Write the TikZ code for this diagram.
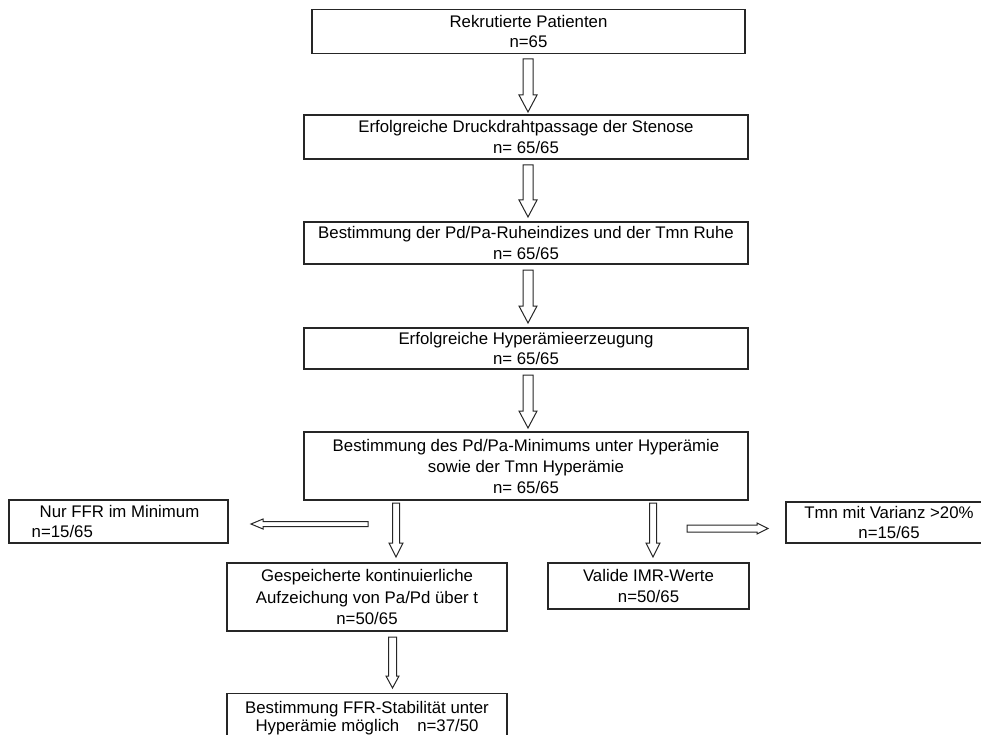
\documentclass[tikz,border=0pt]{standalone}
\usepackage{fontspec}
\setmainfont{Liberation Sans}
\usetikzlibrary{calc}
\tikzset{
  box/.style={draw=black!85, line width=1.3pt, rectangle, inner sep=0pt, align=center,
    font=\fontsize{16.8}{20.5}\selectfont},
  blk/.style={draw=black!85, line width=1pt, fill=white, line join=miter},
}
% vertical block arrow: start, tip, shaft half width, head half width, head length
\newcommand\blkdown[5]{\draw[blk] let \p1=(#1),\p2=(#2) in
  (\x1-#3pt,\y1)--(\x1+#3pt,\y1)--(\x1+#3pt,\y2+#5pt)--(\x1+#4pt,\y2+#5pt)--(\x1,\y2)
  --(\x1-#4pt,\y2+#5pt)--(\x1-#3pt,\y2+#5pt)--cycle;}
% horizontal block arrow pointing left
\newcommand\blkleft[5]{\draw[blk] let \p1=(#1),\p2=(#2) in
  (\x1,\y1+#3pt)--(\x2+#5pt,\y1+#3pt)--(\x2+#5pt,\y1+#4pt)--(\x2,\y1)
  --(\x2+#5pt,\y1-#4pt)--(\x2+#5pt,\y1-#3pt)--(\x1,\y1-#3pt)--cycle;}
% horizontal block arrow pointing right
\newcommand\blkright[5]{\draw[blk] let \p1=(#1),\p2=(#2) in
  (\x1,\y1+#3pt)--(\x2-#5pt,\y1+#3pt)--(\x2-#5pt,\y1+#4pt)--(\x2,\y1)
  --(\x2-#5pt,\y1-#4pt)--(\x2-#5pt,\y1-#3pt)--(\x1,\y1-#3pt)--cycle;}
\begin{document}
\begin{tikzpicture}[x=1pt,y=-1pt]
\useasboundingbox (0,0) rectangle (981,735);
\clip (0,0) rectangle (981,735);

\node[box, minimum width=433pt, minimum height=44pt] (b1) at (528.5,31.5)
  {Rekrutierte Patienten\\n=65};
\node[box, minimum width=444pt, minimum height=44pt] (b2) at (526,137)
  {Erfolgreiche Druckdrahtpassage der Stenose\\n= 65/65};
\node[box, minimum width=444pt, minimum height=42pt] (b3) at (526,243)
  {Bestimmung der Pd/Pa-Ruheindizes und der Tmn Ruhe\\n= 65/65};
\node[box, minimum width=444pt, minimum height=41pt] (b4) at (526,348.5)
  {Erfolgreiche Hyperämieerzeugung\\n= 65/65};
\node[box, minimum width=444pt, minimum height=68pt] (b5) at (526,466)
  {Bestimmung des Pd/Pa-Minimums unter Hyperämie\\[1pt]sowie der Tmn Hyperämie\\n= 65/65};

\node[box, align=left, minimum width=219pt, minimum height=43pt] (nur) at (118.5,521.5)
  {\hspace*{8pt}Nur FFR im Minimum\hspace*{6pt}\\n=15/65};
\node[box, minimum width=206pt, minimum height=41pt] (tmn) at (889,522.5)
  {Tmn mit Varianz >20\%\\n=15/65};
\node[box, minimum width=280pt, minimum height=68pt] (gesp) at (367,597)
  {Gespeicherte kontinuierliche\\[1.5pt]Aufzeichung von Pa/Pd über t\\n=50/65};
\node[box, minimum width=201pt, minimum height=46pt] (valide) at (648.5,586)
  {Valide IMR-Werte\\[1pt]n=50/65};
\node[box, anchor=north, minimum width=280pt, inner ysep=8pt,
  font=\fontsize{16.8}{18}\selectfont] (final) at (367,693)
  {Bestimmung FFR-Stabilität unter\\Hyperämie möglich\hspace{18pt}n=37/50};

\coordinate (a1s) at (528,59);   \coordinate (a1e) at (528,112);
\coordinate (a2s) at (528,165);  \coordinate (a2e) at (528,217);
\coordinate (a3s) at (528,270);  \coordinate (a3e) at (528,323);
\coordinate (a4s) at (528,375);  \coordinate (a4e) at (528,428);
\coordinate (a5s) at (396,503);  \coordinate (a5e) at (396,557);
\coordinate (a6s) at (653,503);  \coordinate (a6e) at (653,557);
\coordinate (a7s) at (368,524);  \coordinate (a7e) at (251,524);
\coordinate (a8s) at (687,528.5);\coordinate (a8e) at (768,528.5);
\coordinate (a9s) at (392.5,637);\coordinate (a9e) at (392.5,688);

\blkdown{a1s}{a1e}{5}{9}{17}
\blkdown{a2s}{a2e}{5}{9}{17}
\blkdown{a3s}{a3e}{5}{9}{17}
\blkdown{a4s}{a4e}{5}{9}{17}
\blkdown{a5s}{a5e}{3.5}{7}{14}
\blkdown{a6s}{a6e}{3.5}{7}{14}
\blkleft{a7s}{a7e}{2.5}{5}{12}
\blkright{a8s}{a8e}{3.5}{5.5}{11}
\blkdown{a9s}{a9e}{4}{6.5}{12}
\end{tikzpicture}
\end{document}
